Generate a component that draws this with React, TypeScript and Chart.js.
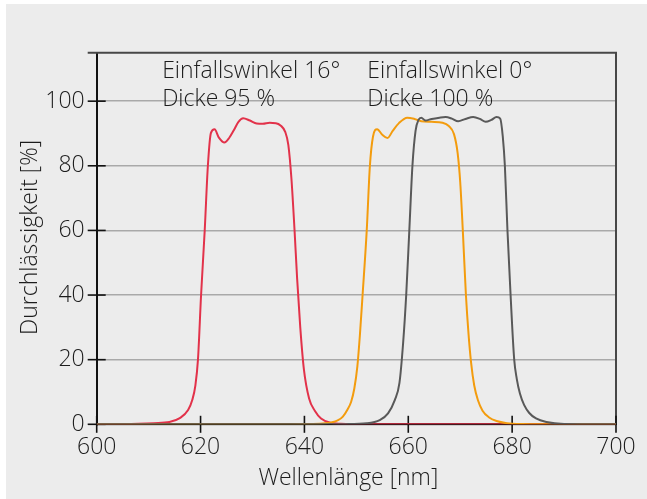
import React, { useEffect, useRef } from 'react';
import { Chart, registerables } from 'chart.js';

Chart.register(...registerables);

// Einfallswinkel 16°, Dicke 95 %
const redX = [600, 605, 608, 611, 614, 616, 617.6, 618.4, 619.0, 619.5, 620.1, 620.8, 621.4, 622.0, 622.7, 623.5, 624.6, 625.5, 626.4, 627.3, 628.2, 629.5, 630.8, 632.0, 633.3, 634.5, 635.4, 636.3, 636.9, 637.5, 638.1, 638.6, 639.2, 639.9, 640.9, 642.0, 643.2, 645.0, 647.0, 650, 660, 680, 700];
const redY = [0, 0.05, 0.15, 0.35, 0.7, 1.9, 4.4, 7.5, 12, 20, 40, 60, 79.8, 90.2, 91.3, 88.8, 87.2, 88.6, 91.0, 93.6, 94.7, 94.0, 93.1, 93.0, 93.3, 93.2, 92.5, 90.5, 86.5, 76, 60, 45, 30, 17, 8, 4.2, 1.8, 0.5, 0.15, 0.05, 0, 0, 0];

// Einfallswinkel 0°, Dicke 95 % (orange)
const orangeX = [600, 620, 635, 640, 643.5, 645.2, 646.4, 647.4, 648.3, 649.0, 649.6, 650.2, 650.7, 651.2, 652.0, 652.6, 653.2, 654.0, 655.0, 656.0, 657.0, 658.2, 659.8, 661.2, 662.5, 664.5, 666.6, 667.8, 668.8, 669.5, 670.0, 670.5, 671.1, 671.6, 672.1, 672.7, 673.4, 674.3, 675.5, 677.0, 679.0, 682, 690, 700];
const orangeY = [0, 0, 0.03, 0.08, 0.25, 0.6, 1.2, 2.4, 4.6, 7, 11, 18, 28, 40, 60, 79.8, 89, 91.3, 89.6, 88.6, 90.8, 93.2, 94.9, 94.5, 93.8, 93.6, 93.3, 92.3, 89.8, 84, 75, 60, 40, 28, 19, 12, 7.5, 4.2, 2.2, 1.0, 0.35, 0.1, 0, 0];

// Einfallswinkel 0°, Dicke 100 % (grau)
const grayX = [600, 640, 648, 652, 654.5, 656.1, 657.4, 658.3, 659.0, 659.6, 660.2, 660.8, 661.4, 662.0, 662.5, 663.3, 664.5, 666.0, 667.2, 668.4, 669.6, 671.0, 672.5, 673.8, 674.9, 676.0, 677.0, 677.7, 678.2, 678.6, 679.1, 679.7, 680.4, 680.9, 681.5, 682.3, 683.3, 684.6, 686.6, 690.0, 700];
const grayY = [0, 0, 0.05, 0.3, 1.3, 3.4, 7.5, 12.8, 25, 40, 60, 80, 90.8, 94.3, 94.9, 94.0, 94.5, 94.9, 95.1, 94.6, 93.8, 94.5, 95.1, 94.5, 93.6, 94.2, 95.1, 94.6, 89, 80, 60, 40, 20, 14, 9.5, 6, 3.5, 1.8, 0.7, 0.1, 0];

const xTicks = [600, 620, 640, 660, 680, 700];
const yTicks = [0, 20, 40, 60, 80, 100];
const xMin = 600;
const xMax = 700;
const yMin = 0;
const yMax = 115;

const xTitle = 'Wellenlänge [nm]';
const yTitle = 'Durchlässigkeit [%]';
const noteLeft = ['Einfallswinkel 16°', 'Dicke 95 %'];
const noteRight = ['Einfallswinkel 0°', 'Dicke 100 %'];
const noteLeftAt = 612.6;
const noteRightAt = 652.1;
const noteLineValues = [107.2, 98.5];

const FONT = '"Open Sans", "Noto Sans", sans-serif';
const WEIGHT = 300;
const SIZE = 23;
const TEXT = '#1c1c1c';

const toPoints = (xs: number[], ys: number[]) => xs.map((x, i) => ({ x, y: ys[i] }));

const decor = {
  id: 'decor',
  beforeDatasetsDraw(chart: any) {
    const { ctx, chartArea: a, scales } = chart;
    const x = scales.x;
    const y = scales.y;
    ctx.save();
    ctx.strokeStyle = '#474747';
    ctx.lineWidth = 2;
    ctx.beginPath();
    ctx.moveTo(a.left - 9, a.top);
    ctx.lineTo(a.right, a.top);
    ctx.lineTo(a.right, a.bottom);
    ctx.stroke();
    ctx.strokeStyle = '#111';
    ctx.lineWidth = 1.6;
    for (const v of xTicks) {
      const px = x.getPixelForValue(v);
      ctx.beginPath();
      ctx.moveTo(px, a.bottom - 8.5);
      ctx.lineTo(px, a.bottom + 8.5);
      ctx.stroke();
    }
    for (const v of yTicks) {
      const py = y.getPixelForValue(v);
      ctx.beginPath();
      ctx.moveTo(a.left - 9, py);
      ctx.lineTo(a.left + 9, py);
      ctx.stroke();
    }
    ctx.restore();
  },
  afterDraw(chart: any) {
    const { ctx, chartArea: a, scales } = chart;
    const x = scales.x;
    const y = scales.y;
    ctx.save();
    ctx.fillStyle = TEXT;
    ctx.font = `${WEIGHT} ${SIZE}px ${FONT}`;
    ctx.textBaseline = 'alphabetic';
    ctx.textAlign = 'left';
    noteLeft.forEach((t, i) => ctx.fillText(t, x.getPixelForValue(noteLeftAt), y.getPixelForValue(noteLineValues[i])));
    noteRight.forEach((t, i) => ctx.fillText(t, x.getPixelForValue(noteRightAt), y.getPixelForValue(noteLineValues[i])));
    ctx.textAlign = 'center';
    ctx.fillText(xTitle, (a.left + a.right) / 2 - 8, a.bottom + 61);
    ctx.translate(31, (a.top + a.bottom) / 2 - 1);
    ctx.rotate(-Math.PI / 2);
    ctx.fillText(yTitle, 0, 0);
    ctx.restore();
  },
};

export default function App() {
  const ref = useRef<HTMLCanvasElement | null>(null);
  useEffect(() => {
    if (!ref.current) return;
    const chart = new Chart(ref.current, {
      type: 'line',
      data: {
        datasets: [
          {
            label: 'Einfallswinkel 0°, Dicke 100 %',
            data: toPoints(grayX, grayY),
            borderColor: '#595959',
            borderWidth: 2,
            pointRadius: 0,
            fill: false,
            cubicInterpolationMode: 'monotone',
          },
          {
            label: 'Einfallswinkel 0°, Dicke 95 %',
            data: toPoints(orangeX, orangeY),
            borderColor: '#f39c0e',
            borderWidth: 2,
            pointRadius: 0,
            fill: false,
            cubicInterpolationMode: 'monotone',
          },
          {
            label: 'Einfallswinkel 16°, Dicke 95 %',
            data: toPoints(redX, redY),
            borderColor: '#e2324a',
            borderWidth: 2,
            pointRadius: 0,
            fill: false,
            cubicInterpolationMode: 'monotone',
          },
        ],
      },
      options: {
        responsive: false,
        animation: false,
        devicePixelRatio: 1,
        layout: { padding: { top: 48.7, right: 31, left: 0, bottom: 0 } },
        plugins: { legend: { display: false }, tooltip: { enabled: false } },
        scales: {
          x: {
            type: 'linear',
            min: xMin,
            max: xMax,
            afterBuildTicks: (s: any) => { s.ticks = xTicks.map((v) => ({ value: v })); },
            afterFit: (s: any) => { s.height = 74.7; },
            grid: { display: false, drawTicks: false },
            border: { display: true, color: '#111', width: 2 },
            ticks: { padding: 9.5, color: TEXT, font: { family: FONT, size: SIZE, weight: WEIGHT }, maxRotation: 0 },
            title: { display: false },
          },
          y: {
            type: 'linear',
            min: yMin,
            max: yMax,
            afterBuildTicks: (s: any) => { s.ticks = yTicks.map((v) => ({ value: v })); },
            afterFit: (s: any) => { s.width = 90.7; },
            grid: { display: true, drawTicks: false, color: '#a9a9a9', lineWidth: 1.5 },
            border: { display: true, color: '#111', width: 2 },
            ticks: { padding: 12, color: TEXT, font: { family: FONT, size: SIZE, weight: WEIGHT } },
            title: { display: false },
          },
        },
      },
      plugins: [decor],
    } as any);
    return () => chart.destroy();
  }, []);
  return (
    <div style={{ position: 'absolute', left: 6, top: 4, width: 641, height: 495, background: '#ececec' }}>
      <canvas ref={ref} width={641} height={495} style={{ display: 'block' }} />
    </div>
  );
}
